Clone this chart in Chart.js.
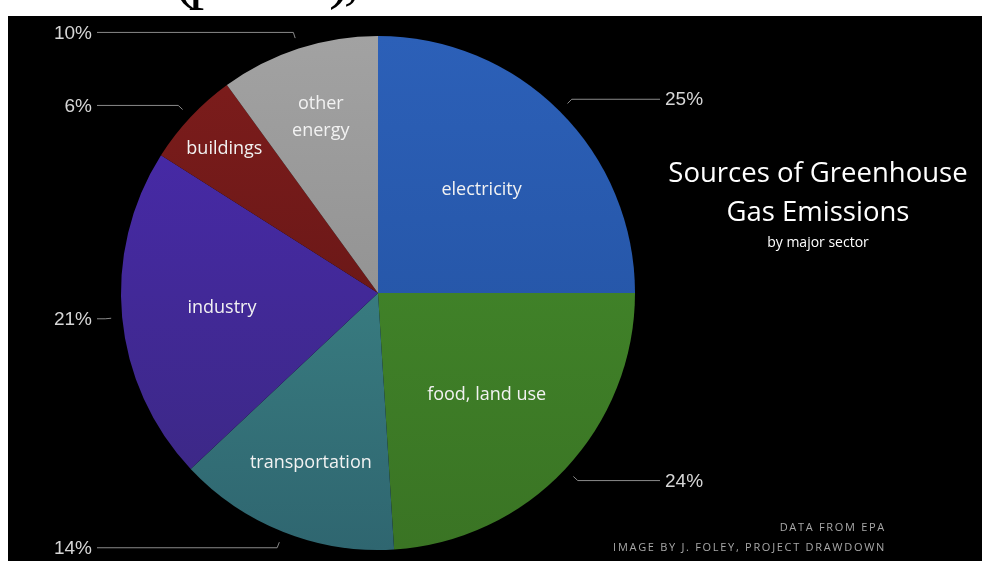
<!DOCTYPE html>
<html>
<head>
<meta charset="utf-8">
<script src="https://cdn.jsdelivr.net/npm/chart.js@4"></script>
<style>
  html, body { margin: 0; padding: 0; background: #fff; overflow: hidden; }
  #top { position: absolute; left: 174px; top: -55px; font-family: "Liberation Serif"; font-size: 62px; line-height: 1; letter-spacing: -6px; color: #000; white-space: nowrap; }
  #panel { position: absolute; left: 8px; top: 16px; width: 974px; height: 545px; background: #000; }
  #wrap { position: absolute; left: 0; top: 0; width: 982px; height: 561px; }
</style>
</head>
<body>
<div id="top">(percent),</div>
<div id="panel"></div>
<div id="wrap"><canvas id="pieChart"></canvas></div>
<script>
// Sectors, clockwise from 12 o'clock
const sectors = ['electricity', 'food, land use', 'transportation', 'industry', 'buildings', 'other energy'];
const shares = [25, 24, 14, 21, 6, 10];
const sliceText = [['electricity'], ['food, land use'], ['transportation'], ['industry'], ['buildings'], ['other', 'energy']];

const topColors = ['#2c60b8', '#458e2c', '#41908f', '#4a2ab0', '#7e1d1c', '#a2a2a2'];
const bottomColors = ['#214f9c', '#3a7424', '#2f6670', '#3a2880', '#5a1313', '#858585'];

// where the inside text sits, as a fraction of the radius
const textRadius = [0.57, 0.58, 0.71, 0.61, 0.82, 0.72];

function sliceFill(context) {
  const i = context.dataIndex;
  const area = context.chart.chartArea;
  if (!area) return topColors[i];
  const g = context.chart.ctx.createLinearGradient(0, area.top, 0, area.bottom);
  g.addColorStop(0, topColors[i]);
  g.addColorStop(1, bottomColors[i]);
  return g;
}

const pieText = {
  id: 'pieText',
  afterDatasetsDraw(chart) {
    const ctx = chart.ctx;
    const meta = chart.getDatasetMeta(0);
    ctx.save();
    meta.data.forEach((arc, i) => {
      const mid = (arc.startAngle + arc.endAngle) / 2;
      const r = arc.outerRadius;
      const cx = arc.x, cy = arc.y;

      // text inside the slice
      const tr = r * textRadius[i];
      const tx = cx + Math.cos(mid) * tr;
      const ty = cy + Math.sin(mid) * tr;
      ctx.fillStyle = '#f2f2f2';
      ctx.font = '18px "Open Sans"';
      ctx.textAlign = 'center';
      ctx.textBaseline = 'middle';
      const lines = sliceText[i];
      lines.forEach((t, k) => {
        ctx.fillText(t, tx, ty + (k - (lines.length - 1) / 2) * 27);
      });

      // leader line and percentage
      const ax = cx + Math.cos(mid) * (r + 11);
      const ay = cy + Math.sin(mid) * (r + 11);
      const ex = cx + Math.cos(mid) * (r + 17);
      const ey = cy + Math.sin(mid) * (r + 17);
      const left = ex < cx;
      const lineEnd = left ? 97 : 660;
      ctx.strokeStyle = '#8a8a8a';
      ctx.lineWidth = 1;
      ctx.beginPath();
      ctx.moveTo(ax, ay);
      ctx.lineTo(ex, ey);
      ctx.lineTo(lineEnd, ey);
      ctx.stroke();

      ctx.fillStyle = '#d6d6d6';
      ctx.font = '19px "Liberation Sans"';
      ctx.textAlign = left ? 'right' : 'left';
      ctx.fillText(shares[i] + '%', left ? 92 : 665, ey + 1);
    });

    // title block
    ctx.fillStyle = '#ffffff';
    ctx.textAlign = 'center';
    ctx.font = '27.5px "Open Sans"';
    ctx.fillText('Sources of Greenhouse', 818, 174);
    ctx.fillText('Gas Emissions', 818, 213);
    ctx.font = '14px "Open Sans"';
    ctx.fillText('by major sector', 818, 243);

    // credits
    ctx.fillStyle = '#a8a8a8';
    ctx.textAlign = 'right';
    ctx.font = '11px "Open Sans"';
    ctx.letterSpacing = '1.7px';
    ctx.fillText('DATA FROM EPA', 886, 528);
    ctx.fillText('IMAGE BY J. FOLEY, PROJECT DRAWDOWN', 886, 548);
    ctx.restore();
  }
};

new Chart(document.getElementById('pieChart').getContext('2d'), {
  type: 'pie',
  data: {
    labels: sectors,
    datasets: [{
      data: shares,
      backgroundColor: sliceFill,
      borderWidth: 0
    }]
  },
  options: {
    responsive: true,
    maintainAspectRatio: false,
    animation: false,
    layout: { padding: { left: 121, right: 347, top: 36, bottom: 11 } },
    plugins: {
      legend: { display: false },
      tooltip: { enabled: false }
    }
  },
  plugins: [pieText]
});
</script>
</body>
</html>
